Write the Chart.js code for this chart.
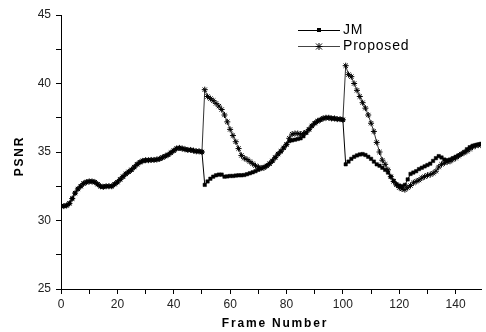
<!DOCTYPE html>
<html>
<head>
<meta charset="utf-8">
<script src="https://cdn.jsdelivr.net/npm/chart.js@4.4.0/dist/chart.umd.min.js"></script>
<style>
  html, body { margin: 0; padding: 0; background: #fff; }
  #wrap { width: 486px; height: 332px; }
</style>
</head>
<body>
<div id="wrap"><canvas id="psnrChart" width="486" height="332"></canvas></div>
<script>
// PSNR per frame
const frames = Array.from({ length: 150 }, (_, i) => i);

const jm = [
  31.05, 31.05, 31.1, 31.25, 31.6, 32.0, 32.3, 32.5, 32.7, 32.8,
  32.85, 32.85, 32.8, 32.65, 32.5, 32.45, 32.5, 32.5, 32.5, 32.65,
  32.8, 33.0, 33.2, 33.4, 33.55, 33.7, 33.9, 34.1, 34.25, 34.35,
  34.4, 34.4, 34.42, 34.42, 34.45, 34.5, 34.6, 34.7, 34.8, 34.95,
  35.1, 35.25, 35.3, 35.25, 35.2, 35.15, 35.15, 35.1, 35.05, 35.05,
  35.0, 32.6, 32.85, 33.05, 33.2, 33.3, 33.35, 33.35, 33.2, 33.22,
  33.25, 33.25, 33.28, 33.3, 33.3, 33.32, 33.38, 33.45, 33.52, 33.6,
  33.7, 33.8, 33.9, 34.0, 34.15, 34.35, 34.6, 34.85, 35.05, 35.3,
  35.55, 35.8, 35.85, 35.9, 35.95, 36.0, 36.15, 36.4, 36.65, 36.9,
  37.1, 37.25, 37.35, 37.45, 37.5, 37.5, 37.45, 37.45, 37.4, 37.4,
  37.35, 34.1, 34.3, 34.5, 34.65, 34.75, 34.82, 34.85, 34.78, 34.65,
  34.5, 34.3, 34.1, 34.0, 33.85, 33.7, 33.5, 33.2, 32.9, 32.65,
  32.55, 32.5, 32.6, 33.0, 33.4, 33.5, 33.6, 33.75, 33.85, 33.95,
  34.05, 34.15, 34.35, 34.55, 34.7, 34.6, 34.45, 34.4, 34.45, 34.55,
  34.65, 34.75, 34.85, 35.0, 35.2, 35.35, 35.45, 35.5, 35.55, 35.6
];

const proposed = [
  31.05, 31.05, 31.1, 31.25, 31.6, 32.0, 32.3, 32.5, 32.7, 32.8,
  32.85, 32.85, 32.8, 32.65, 32.5, 32.45, 32.5, 32.5, 32.5, 32.65,
  32.8, 33.0, 33.2, 33.4, 33.55, 33.7, 33.9, 34.1, 34.25, 34.35,
  34.4, 34.4, 34.42, 34.42, 34.45, 34.5, 34.6, 34.7, 34.8, 34.95,
  35.1, 35.25, 35.3, 35.25, 35.2, 35.15, 35.15, 35.1, 35.05, 35.05,
  35.0, 39.55, 39.05, 38.9, 38.75, 38.55, 38.35, 38.1, 37.7, 37.2,
  36.65, 36.2, 35.75, 35.25, 34.75, 34.55, 34.45, 34.3, 34.15, 34.0,
  33.9, 33.82, 33.85, 33.98, 34.15, 34.35, 34.6, 34.85, 35.05, 35.3,
  35.55, 36.0, 36.3, 36.35, 36.35, 36.3, 36.35, 36.45, 36.65, 36.9,
  37.1, 37.25, 37.35, 37.45, 37.5, 37.5, 37.45, 37.45, 37.4, 37.4,
  37.35, 41.3, 40.65, 40.5, 40.0, 39.5, 39.05, 38.6, 38.2, 37.7,
  37.1, 36.5, 35.7, 35.0, 34.4, 34.1, 33.7, 33.2, 32.85, 32.6,
  32.4, 32.3, 32.25, 32.4, 32.55, 32.75, 32.85, 32.95, 33.1, 33.2,
  33.3, 33.35, 33.45, 33.6, 33.9, 34.1, 34.2, 34.28, 34.32, 34.45,
  34.55, 34.7, 34.85, 34.95, 35.05, 35.2, 35.35, 35.45, 35.5, 35.5
];

const seriesNames = ['JM', 'Proposed'];

const font = 'Arial, "Liberation Sans", sans-serif';

// legend + axis titles drawn by hand so they can sit inside the plot and use letter spacing
const extras = {
  id: 'extras',
  afterDraw(chart) {
    const c = chart.ctx;
    c.save();
    c.fillStyle = '#000';
    c.strokeStyle = '#000';

    // legend
    c.lineWidth = 1;
    c.beginPath(); c.moveTo(298, 30.5); c.lineTo(340, 30.5); c.stroke();
    c.fillRect(317, 28, 4, 4);
    c.strokeStyle = '#444';
    c.beginPath(); c.moveTo(298, 46.5); c.lineTo(340, 46.5); c.stroke();
    c.strokeStyle = '#000';
    c.beginPath();
    c.moveTo(316, 43.5); c.lineTo(322, 49.5);
    c.moveTo(322, 43.5); c.lineTo(316, 49.5);
    c.moveTo(319, 43); c.lineTo(319, 50);
    c.moveTo(315.5, 46.5); c.lineTo(322.5, 46.5);
    c.stroke();

    c.font = '14px ' + font;
    c.letterSpacing = '0.8px';
    c.textBaseline = 'middle';
    c.textAlign = 'left';
    c.fillText(seriesNames[0], 343, 30.5);
    c.fillText(seriesNames[1], 343, 46.5);

    // axis titles
    c.font = 'bold 12px ' + font;
    c.letterSpacing = '1.8px';
    c.textAlign = 'center';
    c.fillText('Frame Number', 275, 324);
    c.translate(20, 156);
    c.rotate(-Math.PI / 2);
    c.fillText('PSNR', 0, 0);
    c.restore();
  }
};

new Chart(document.getElementById('psnrChart'), {
  type: 'line',
  data: {
    labels: frames,
    datasets: [
      {
        label: seriesNames[0],
        data: jm,
        borderColor: '#000',
        borderWidth: 1,
        pointStyle: 'rect',
        pointRadius: 2.4,
        pointBackgroundColor: '#000',
        pointBorderColor: '#000',
        pointBorderWidth: 0.5,
        tension: 0
      },
      {
        label: seriesNames[1],
        data: proposed,
        borderColor: '#333',
        borderWidth: 1,
        pointStyle: 'star',
        pointRadius: 3,
        pointBorderColor: '#000',
        pointBorderWidth: 1,
        tension: 0
      }
    ]
  },
  options: {
    responsive: false,
    animation: false,
    layout: { padding: { top: 15, right: 0, left: 0, bottom: 0 } },
    plugins: {
      legend: { display: false },
      tooltip: { enabled: false }
    },
    scales: {
      x: {
        type: 'linear',
        min: 0,
        max: 149,
        afterBuildTicks: s => { s.ticks = s.ticks.filter(t => t.value % 10 === 0); },
        afterFit: s => { s.height = 43; },
        ticks: {
          stepSize: 10,
          includeBounds: false,
          autoSkip: false,
          maxRotation: 0,
          padding: 3,
          color: '#222',
          font: { family: font, size: 12 },
          callback: v => (v % 20 === 0 ? v : '')
        },
        grid: { drawOnChartArea: false, tickLength: 5, color: '#000' },
        border: { color: '#000', width: 1 }
      },
      y: {
        min: 25,
        max: 45,
        afterFit: s => { s.width = 61; },
        ticks: {
          stepSize: 2.5,
          autoSkip: false,
          padding: 5,
          color: '#222',
          font: { family: font, size: 12 },
          callback: v => (v % 5 === 0 ? v : '')
        },
        grid: { drawOnChartArea: false, tickLength: 5, color: '#000' },
        border: { color: '#000', width: 1 }
      }
    }
  },
  plugins: [extras]
});
</script>
</body>
</html>
